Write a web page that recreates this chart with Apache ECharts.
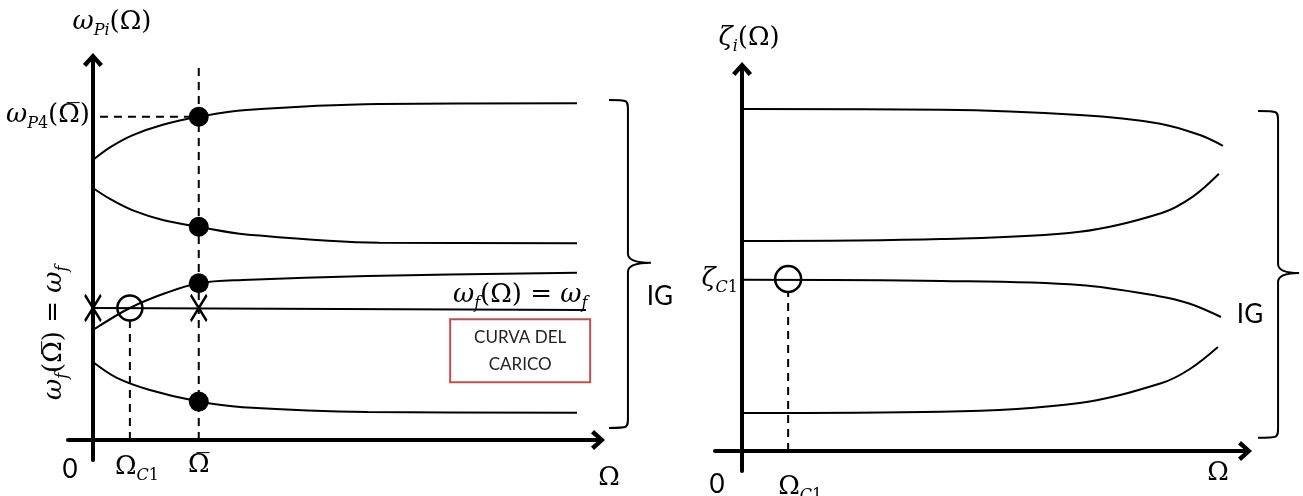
<!DOCTYPE html>
<html>
<head>
<meta charset="utf-8">
<title>Curve di stabilità</title>
<script src="https://cdn.jsdelivr.net/npm/echarts@6/dist/echarts.min.js"></script>
<style>
  html, body { margin: 0; padding: 0; background: #fff; }
  #chart { width: 1303px; height: 496px; }
</style>
</head>
<body>
<div id="chart"></div>
<script>
// ---- Left diagram: natural frequencies ω_Pi(Ω) ----
const omegaBar = 2.12;      // Ω̄
const omegaC1Left = 0.74;   // Ω_C1 (left)
const omegaP1 = [[0, 7.0], [0.35, 7.32], [0.8, 7.62], [1.4, 7.88], [2.12, 8.08], [3.07, 8.25], [5.74, 8.4], [9.7, 8.42]];
const omegaP2 = [[0, 6.3], [0.35, 6.02], [0.8, 5.74], [1.4, 5.5], [2.12, 5.33], [3.07, 5.14], [5.74, 4.93], [9.7, 4.92]];
const omegaP3 = [[0, 2.75], [0.74, 3.3], [1.47, 3.68], [2.12, 3.92], [3.0, 4.0], [5.5, 4.1], [9.7, 4.18]];
const omegaP4 = [[0, 1.95], [0.47, 1.56], [1.14, 1.25], [2.12, 0.96], [3.0, 0.82], [5.5, 0.7], [9.7, 0.68]];
const loadCurve = [[0, 3.3], [9.88, 3.25]];
const omegaF = 3.3;
const dotsAtOmegaBar = [[omegaBar, 8.08], [omegaBar, 5.33], [omegaBar, 3.92], [omegaBar, 0.96]];
const crossings = [[0, omegaF], [omegaBar, omegaF]];
const criticalLeft = [[omegaC1Left, omegaF]];

// ---- Right diagram: damping ratios ζ_i(Ω) ----
const omegaC1Right = 0.92;
const zetaC1 = 4.3;
const zeta1 = [[0, 8.55], [3.98, 8.53], [6.74, 8.4], [8.32, 8.19], [9.14, 7.9], [9.6, 7.63]];
const zeta2 = [[0, 5.25], [3.98, 5.3], [6.74, 5.48], [8.38, 5.95], [9.0, 6.36], [9.52, 6.93]];
const zeta3 = [[0, 4.28], [3.98, 4.25], [6.74, 4.15], [8.32, 3.87], [8.94, 3.68], [9.56, 3.35]];
const zeta4 = [[0, 0.95], [3.98, 0.98], [6.74, 1.2], [8.38, 1.7], [8.94, 2.05], [9.5, 2.6]];
const criticalRight = [[omegaC1Right, zetaC1]];

// Braces: [x start of hook, x of spine, x of tip, y top, y middle, y bottom]
const braceLeft = [[10.34, 10.72, 11.18, 8.5, 4.43, 0.3]];
const braceRight = [[10.3, 10.7, 11.12, 8.5, 4.45, 0.33]];

// Text labels: [x, y, rich text, align, rotate]
const leftLabels = [
  [0.38, 10.45, '{m|ω}{s|Pi}{u|(Ω)}', 'center', 0],
  [-0.06, 8.13, '{m|ω}{s|P}{sn|4}{u|(}{ub|Ω̅}{u|)}', 'right', 0],
  [-0.78, 2.68, '{m|ω}{s|f}{u|(}{ub|Ω̅}{u|) = }{m|ω}{s|f}', 'center', 90],
  [-0.46, -0.75, '{t|0}', 'center', 0],
  [0.88, -0.68, '{u|Ω}{s|C}{sn|1}', 'center', 0],
  [omegaBar, -0.63, '{ub|Ω̅}', 'center', 0],
  [10.34, -0.95, '{u|Ω}', 'center', 0],
  [8.56, 3.63, '{m|ω}{s|f}{u|(Ω) = }{m|ω}{s|f}', 'center', 0],
  [11.36, 3.58, '{t|IG}', 'center', 0]
];
const rightLabels = [
  [0.14, 10.33, '{m|ζ}{s|i}{u|(Ω)}', 'center', 0],
  [-0.08, zetaC1, '{m|ζ}{s|C}{sn|1}', 'right', 0],
  [-0.5, -0.83, '{t|0}', 'center', 0],
  [1.16, -0.9, '{u|Ω}{s|C}{sn|1}', 'center', 0],
  [9.5, -0.55, '{u|Ω}', 'center', 0],
  [10.14, 3.4, '{t|IG}', 'center', 0]
];
const boxLabel = [[8.56, 2.23, 'CURVA DEL\nCARICO']];

const MATH = "'DejaVu Serif', 'Liberation Serif', serif";
const SANS = "Lato, 'Open Sans', sans-serif";
const rich = {
  m: { fontFamily: MATH, fontStyle: 'italic', fontSize: 26, lineHeight: 34, color: '#000' },
  s: { fontFamily: MATH, fontStyle: 'italic', fontSize: 16, lineHeight: 18, verticalAlign: 'bottom', color: '#000' },
  sn: { fontFamily: MATH, fontSize: 16, lineHeight: 18, verticalAlign: 'bottom', color: '#000' },
  u: { fontFamily: MATH, fontSize: 26, lineHeight: 34, color: '#000' },
  ub: { fontFamily: MATH, fontSize: 26, lineHeight: 34, color: '#000' },
  t: { fontFamily: SANS, fontSize: 26, lineHeight: 34, color: '#000' }
};

const chevron = 'path://M0,11 L10,0 L20,11 L16.6,14 L10,6.2 L3.4,14 Z';
const crossPath = 'path://M0,0 L10,16 M10,0 L0,16';

function axisPair(gridIndex, xMin, xMax, yMin, yMax) {
  const line = { show: true, onZero: true, symbol: ['none', chevron], symbolSize: [20, 16],
    lineStyle: { color: '#000', width: 4 } };
  return {
    x: { type: 'value', gridIndex, min: xMin, max: xMax, axisLine: line,
      axisTick: { show: false }, axisLabel: { show: false }, splitLine: { show: false } },
    y: { type: 'value', gridIndex, min: yMin, max: yMax, axisLine: line,
      axisTick: { show: false }, axisLabel: { show: false }, splitLine: { show: false } }
  };
}
const leftAxes = axisPair(0, -0.5, 10.12, -0.5, 9.5);
const rightAxes = axisPair(1, -0.54, 10.04, -0.5, 9.55);

function curve(data, idx) {
  return { type: 'line', xAxisIndex: idx, yAxisIndex: idx, data, smooth: 0.35,
    symbol: 'none', silent: true, z: 3, lineStyle: { color: '#000', width: 2 } };
}
function dashed(data, idx) {
  return { type: 'line', xAxisIndex: idx, yAxisIndex: idx, data, symbol: 'none', silent: true, z: 2,
    lineStyle: { color: '#000', width: 2, type: [8, 6] } };
}
function markers(data, idx, symbol, size, style) {
  return { type: 'scatter', xAxisIndex: idx, yAxisIndex: idx, data, symbol, symbolSize: size,
    clip: false, silent: true, z: 5, itemStyle: Object.assign({ opacity: 1 }, style) };
}
function brace(data, idx) {
  return {
    type: 'custom', xAxisIndex: idx, yAxisIndex: idx, data, silent: true, clip: false, z: 4,
    renderItem(params, api) {
      const p = (x, y) => api.coord([x, y]);
      const a = p(api.value(0), api.value(3));
      const l = p(api.value(1), api.value(4));
      const tip = p(api.value(2), api.value(4));
      const b = p(api.value(0), api.value(5));
      const lx = l[0], ty = a[1], my = l[1], by = b[1];
      const d = `M${a[0]},${ty} C${lx},${ty} ${lx},${ty} ${lx},${ty + 10} L${lx},${my - 9} ` +
        `Q${lx},${my} ${tip[0]},${my} Q${lx},${my} ${lx},${my + 9} L${lx},${by - 10} ` +
        `C${lx},${by} ${lx},${by} ${b[0]},${by}`;
      return { type: 'path', shape: { pathData: d },
        style: { fill: 'none', stroke: '#000', lineWidth: 2 } };
    }
  };
}
function texts(items, idx) {
  return {
    type: 'scatter', xAxisIndex: idx, yAxisIndex: idx, symbolSize: 0, clip: false, silent: true, z: 6,
    itemStyle: { opacity: 1 },
    data: items.map(([x, y, txt, align, rot]) => ({
      value: [x, y],
      label: { show: true, position: 'inside', formatter: txt, align, verticalAlign: 'middle',
        rotate: rot, color: '#000', rich }
    }))
  };
}

const chart = echarts.init(document.getElementById('chart'), null, { renderer: 'canvas' });
chart.setOption({
  backgroundColor: '#fff',
  animation: false,
  grid: [
    { left: 68, top: 60, width: 530, height: 400, containLabel: false, outerBoundsMode: 'none' },
    { left: 715, top: 69, width: 530, height: 402, containLabel: false, outerBoundsMode: 'none' }
  ],
  xAxis: [leftAxes.x, rightAxes.x],
  yAxis: [leftAxes.y, rightAxes.y],
  series: [
    curve(omegaP1, 0), curve(omegaP2, 0), curve(omegaP3, 0), curve(omegaP4, 0), curve(loadCurve, 0),
    dashed([[omegaBar, 0], [omegaBar, 9.3]], 0),
    dashed([[omegaC1Left, 0], [omegaC1Left, 3.0]], 0),
    dashed([[0.14, 8.08], [omegaBar, 8.08]], 0),
    markers(dotsAtOmegaBar, 0, 'circle', 20, { color: '#000' }),
    markers(crossings, 0, crossPath, [16, 26], { color: 'none', borderColor: '#000', borderWidth: 2.5 }),
    markers(criticalLeft, 0, 'circle', 25, { color: 'transparent', borderColor: '#000', borderWidth: 2.5 }),
    brace(braceLeft, 0),
    texts(leftLabels, 0),
    {
      type: 'scatter', xAxisIndex: 0, yAxisIndex: 0, symbolSize: 0, clip: false, silent: true, z: 6,
      itemStyle: { opacity: 1 },
      data: boxLabel.map(([x, y, txt]) => ({
        value: [x, y],
        label: { show: true, position: 'inside', formatter: txt, align: 'center', verticalAlign: 'middle',
          fontFamily: SANS, fontSize: 17, lineHeight: 27, color: '#222', width: 138,
          padding: [4, 0, 3, 0], borderColor: '#c0504d', borderWidth: 2, backgroundColor: '#fff' }
      }))
    },

    curve(zeta1, 1), curve(zeta2, 1), curve(zeta3, 1), curve(zeta4, 1),
    dashed([[omegaC1Right, 0], [omegaC1Right, 3.98]], 1),
    markers(criticalRight, 1, 'circle', 26, { color: 'transparent', borderColor: '#000', borderWidth: 2.5 }),
    brace(braceRight, 1),
    texts(rightLabels, 1)
  ]
});
</script>
</body>
</html>
